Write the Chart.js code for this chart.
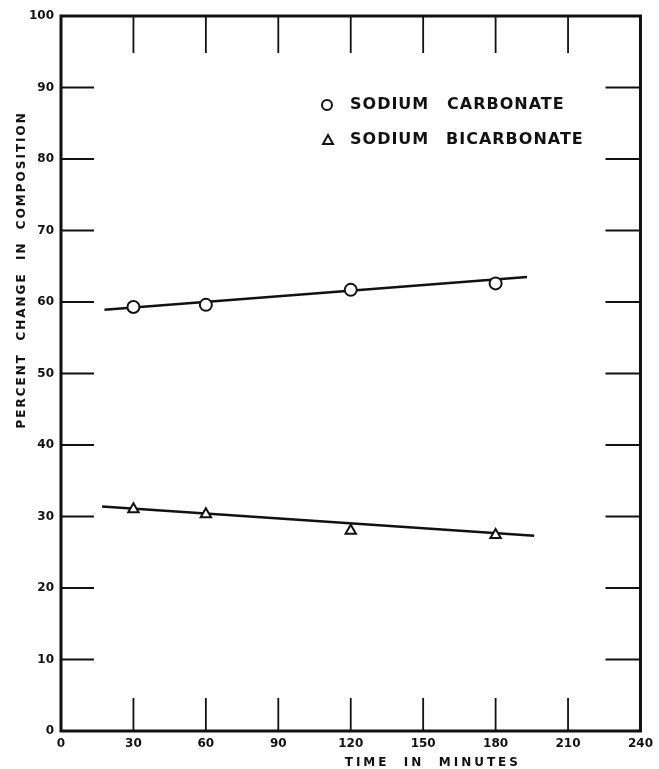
<!DOCTYPE html>
<html>
<head>
<meta charset="utf-8">
<script src="https://cdn.jsdelivr.net/npm/chart.js@4.4.1/dist/chart.umd.min.js"></script>
<style>
	body { margin: 0; background: #fff; }
	canvas { display: block; }
</style>
</head>
<body>
<canvas id="chart" width="659" height="769"></canvas>
<script>
// values
const sampleTimes = [30, 60, 120, 180];
const carbonate = [59.3, 59.6, 61.7, 62.6];
const bicarbonate = [31.0, 30.3, 28.0, 27.4];

// hand-drawn fit lines (start / end)
const carbonateFitX = [18, 193];
const carbonateFitY = [58.9, 63.5];
const bicarbonateFitX = [17, 196];
const bicarbonateFitY = [31.4, 27.3];

const xTicks = [0, 30, 60, 90, 120, 150, 180, 210, 240];
const yTicks = [0, 10, 20, 30, 40, 50, 60, 70, 80, 90, 100];

const ink = '#111';
const fontFamily = '"DejaVu Sans", sans-serif';

const toPoints = (xs, ys) => xs.map((x, i) => ({ x: x, y: ys[i] }));

// frame, inner tick marks, axis titles and legend
const paperPlugin = {
	id: 'paper',
	afterDatasetsDraw(chart) {
		const ctx = chart.ctx;
		const a = chart.chartArea;
		const xs = chart.scales.x;
		const ys = chart.scales.y;
		ctx.save();
		ctx.strokeStyle = ink;
		ctx.lineWidth = 1.8;
		ctx.lineCap = 'butt';
		xTicks.slice(1, -1).forEach((t) => {
			const px = xs.getPixelForValue(t);
			ctx.beginPath();
			ctx.moveTo(px, a.top);
			ctx.lineTo(px, a.top + 37);
			ctx.moveTo(px, a.bottom);
			ctx.lineTo(px, a.bottom - 33);
			ctx.stroke();
		});
		yTicks.slice(1, -1).forEach((t) => {
			const py = ys.getPixelForValue(t);
			ctx.beginPath();
			ctx.moveTo(a.left, py);
			ctx.lineTo(a.left + 33, py);
			ctx.moveTo(a.right, py);
			ctx.lineTo(a.right - 35, py);
			ctx.stroke();
		});
		ctx.lineWidth = 3;
		ctx.strokeRect(a.left, a.top, a.right - a.left, a.bottom - a.top);

		ctx.fillStyle = ink;
		ctx.textBaseline = 'middle';
		// x title
		ctx.font = 'bold 12px ' + fontFamily;
		ctx.letterSpacing = '3px';
		ctx.textAlign = 'center';
		ctx.fillText('TIME  IN  MINUTES', xs.getPixelForValue(154), 763);
		// y title
		ctx.save();
		ctx.translate(22, ys.getPixelForValue(64.5));
		ctx.rotate(-Math.PI / 2);
		ctx.letterSpacing = '2px';
		ctx.fillText('PERCENT  CHANGE  IN  COMPOSITION', 0, 0);
		ctx.restore();

		// legend
		ctx.lineWidth = 2;
		ctx.beginPath();
		ctx.arc(327, 105, 5, 0, Math.PI * 2);
		ctx.stroke();
		ctx.beginPath();
		ctx.moveTo(328, 135);
		ctx.lineTo(333, 144);
		ctx.lineTo(323, 144);
		ctx.closePath();
		ctx.stroke();
		ctx.font = 'bold 16px ' + fontFamily;
		ctx.letterSpacing = '1px';
		ctx.textAlign = 'left';
		ctx.fillText('SODIUM', 350, 105);
		ctx.fillText('CARBONATE', 447, 105);
		ctx.fillText('SODIUM', 350, 140);
		ctx.fillText('BICARBONATE', 446, 140);
		ctx.restore();
	},
};

new Chart(document.getElementById('chart'), {
	type: 'scatter',
	data: {
		datasets: [
			{
				label: 'Sodium carbonate fit',
				data: toPoints(carbonateFitX, carbonateFitY),
				showLine: true,
				borderColor: ink,
				borderWidth: 2.5,
				pointRadius: 0,
				order: 2,
			},
			{
				label: 'Sodium bicarbonate fit',
				data: toPoints(bicarbonateFitX, bicarbonateFitY),
				showLine: true,
				borderColor: ink,
				borderWidth: 2.5,
				pointRadius: 0,
				order: 2,
			},
			{
				label: 'Sodium carbonate',
				data: toPoints(sampleTimes, carbonate),
				pointStyle: 'circle',
				pointRadius: 6,
				borderWidth: 2,
				borderColor: ink,
				backgroundColor: '#fff',
				order: 1,
			},
			{
				label: 'Sodium bicarbonate',
				data: toPoints(sampleTimes, bicarbonate),
				pointStyle: 'triangle',
				pointRadius: 6,
				borderWidth: 2,
				borderColor: ink,
				backgroundColor: '#fff',
				order: 1,
			},
		],
	},
	options: {
		responsive: false,
		animation: false,
		layout: {
			padding: { top: 16, right: 18, left: 0, bottom: 0 },
		},
		scales: {
			x: {
				type: 'linear',
				min: 0,
				max: 240,
				afterFit: (scale) => {
					scale.height = 38;
				},
				afterBuildTicks: (scale) => {
					scale.ticks = xTicks.map((v) => ({ value: v }));
				},
				ticks: {
					color: ink,
					padding: 6,
					maxRotation: 0,
					font: { family: fontFamily, weight: 'bold', size: 12 },
				},
				grid: { display: false, drawTicks: false },
				border: { display: false },
			},
			y: {
				type: 'linear',
				min: 0,
				max: 100,
				afterFit: (scale) => {
					scale.width = 61;
				},
				afterBuildTicks: (scale) => {
					scale.ticks = yTicks.map((v) => ({ value: v }));
				},
				ticks: {
					color: ink,
					padding: 7,
					font: { family: fontFamily, weight: 'bold', size: 12 },
				},
				grid: { display: false, drawTicks: false },
				border: { display: false },
			},
		},
		plugins: {
			legend: { display: false },
			tooltip: { enabled: false },
		},
	},
	plugins: [paperPlugin],
});
</script>
</body>
</html>
